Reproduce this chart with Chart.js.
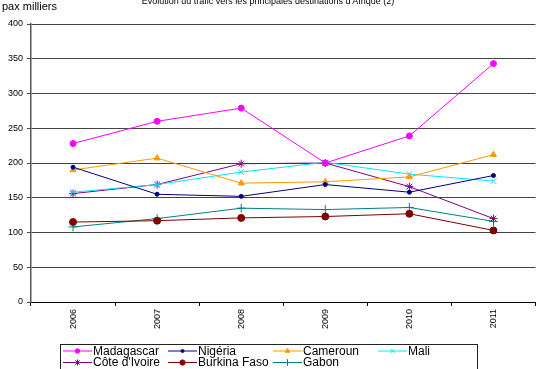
<!DOCTYPE html>
<html>
<head>
<meta charset="utf-8">
<script src="https://cdn.jsdelivr.net/npm/chart.js@4"></script>
<style>
  html, body { margin: 0; padding: 0; background: #fff; }
  #wrap { width: 541px; height: 369px; position: relative; }
</style>
</head>
<body>
<div id="wrap"><canvas id="c" width="541" height="369"></canvas></div>
<script>
// Years on the category axis
const years = ['2006', '2007', '2008', '2009', '2010', '2011'];

// Passengers (thousands) per destination
const madagascar   = [228, 260, 279, 200, 239, 343];
const nigeria      = [194, 155, 152, 169, 158, 182];
const cameroun     = [190, 207, 171, 173, 180, 212];
const mali         = [158, 169, 187, 201, 184, 174];
const coteIvoire   = [156, 169, 199, 200, 166, 120];
const burkinaFaso  = [115, 117, 121, 123, 127, 103];
const gabon        = [108, 120, 135, 133, 136, 116];

// Y axis tick values
const yTicks = [0, 50, 100, 150, 200, 250, 300, 350, 400];

const titleText = "Evolution du trafic vers les principales destinations d'Afrique (2)";
const unitText = 'pax milliers';

function series(label, data, color, pointStyle, radius) {
  return {
    label, data,
    borderColor: color,
    backgroundColor: color,
    borderWidth: 1,
    pointStyle,
    pointRadius: radius,
    pointHoverRadius: radius,
    pointBorderWidth: 1,
    tension: 0
  };
}

const datasets = [
  series('Madagascar', madagascar, '#ff00ff', 'circle', 3),
  series('Nigéria', nigeria, '#000080', 'circle', 2),
  series('Cameroun', cameroun, '#ff9900', 'triangle', 3.5),
  series('Mali', mali, '#00e8ff', 'crossRot', 4),
  series("Côte d'Ivoire", coteIvoire, '#800080', 'star', 4),
  series('Burkina Faso', burkinaFaso, '#800000', 'circle', 3.5),
  series('Gabon', gabon, '#008080', 'cross', 4.5)
];

// Title, unit label and the boxed two-row legend
const decorations = {
  id: 'decorations',
  afterDraw(chart) {
    const ctx = chart.ctx;
    ctx.save();
    ctx.fillStyle = '#000';
    ctx.textBaseline = 'middle';
    ctx.font = '9px "Liberation Sans", Arial, sans-serif';
    ctx.textAlign = 'center';
    ctx.fillText(titleText, 268, 2);
    ctx.font = '11px "Liberation Sans", Arial, sans-serif';
    ctx.textAlign = 'left';
    ctx.fillText(unitText, 2, 7);

    // legend box
    ctx.strokeStyle = '#222';
    ctx.lineWidth = 1;
    ctx.strokeRect(60.5, 344.5, 417, 30);

    const colX = [63, 168, 273, 378];
    const rowY = [351, 362.5];
    ctx.font = '12px "Liberation Sans", Arial, sans-serif';
    chart.data.datasets.forEach((ds, i) => {
      const col = i % 4, row = Math.floor(i / 4);
      const x = colX[col], y = rowY[row];
      ctx.strokeStyle = ds.borderColor;
      ctx.fillStyle = ds.backgroundColor;
      ctx.lineWidth = 1;
      ctx.beginPath();
      ctx.moveTo(x, y);
      ctx.lineTo(x + 29, y);
      ctx.stroke();
      Chart.helpers.drawPoint(ctx, {
        pointStyle: ds.pointStyle,
        radius: ds.pointRadius * 0.75,
        borderWidth: 1,
        rotation: 0
      }, x + 14.5, y);
      ctx.fillStyle = '#000';
      ctx.textAlign = 'left';
      ctx.fillText(ds.label, x + 30, y + 0.5);
    });
    ctx.restore();
  }
};

new Chart(document.getElementById('c'), {
  type: 'line',
  data: { labels: years, datasets },
  plugins: [decorations],
  options: {
    responsive: false,
    animation: false,
    devicePixelRatio: 1,
    layout: { padding: { top: 24, left: 0, right: 0, bottom: 0 } },
    plugins: {
      legend: { display: false },
      title: { display: false },
      tooltip: { enabled: false }
    },
    scales: {
      x: {
        offset: true,
        afterFit(s) { s.height = 67; },
        grid: {
          offset: true,
          drawOnChartArea: false,
          drawTicks: true,
          tickLength: 4,
          color: '#000'
        },
        border: { color: '#000', width: 1 },
        ticks: {
          minRotation: 90,
          maxRotation: 90,
          padding: 3,
          color: '#000',
          font: { family: '"Liberation Sans", Arial, sans-serif', size: 9 }
        }
      },
      y: {
        min: 0,
        max: 400,
        afterFit(s) { s.width = 31; },
        afterBuildTicks(s) { s.ticks = yTicks.map(v => ({ value: v })); },
        grid: {
          color: '#444',
          lineWidth: 1,
          drawTicks: true,
          tickLength: 4
        },
        border: { color: '#555', width: 1.5 },
        ticks: {
          padding: 4,
          color: '#000',
          font: { family: '"Liberation Sans", Arial, sans-serif', size: 9 }
        }
      }
    }
  }
});
</script>
</body>
</html>
